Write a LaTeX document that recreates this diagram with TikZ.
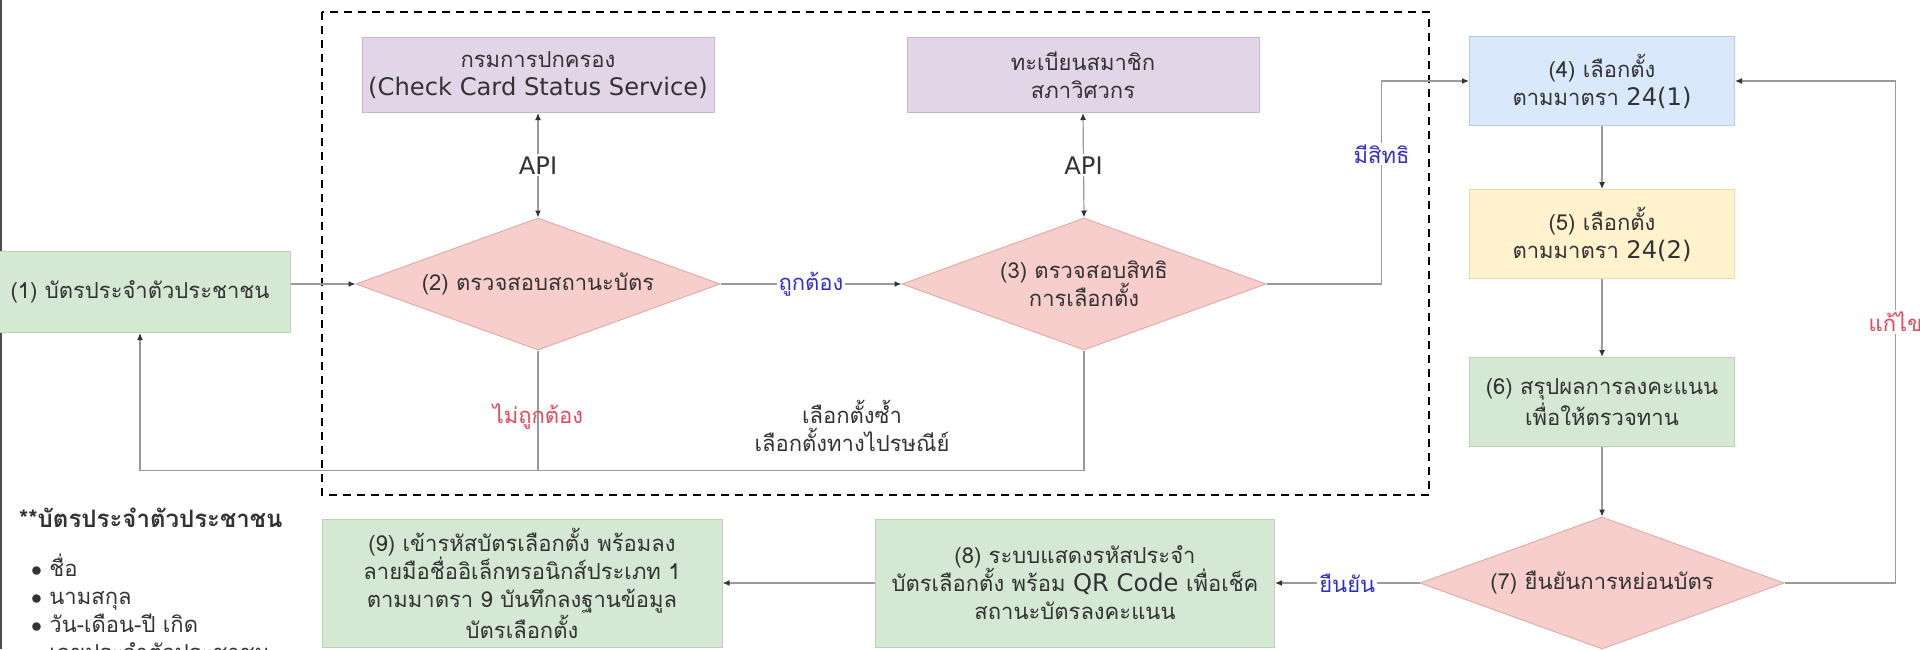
\documentclass[tikz,border=0pt]{standalone}
\usepackage{fontspec}
\setmainfont[Script=Thai]{Loma}
\newfontfamily\latin[Scale=1.1]{DejaVu Sans}
\usepackage{tikz}
\usetikzlibrary{positioning}
\usetikzlibrary{arrows,arrows.meta,shapes}
\usetikzlibrary{calc}
\definecolor{boxgreen}{HTML}{D5E8D4}
\definecolor{linegreen}{HTML}{B9D6AE}
\definecolor{boxpurple}{HTML}{E1D5E7}
\definecolor{linepurple}{HTML}{C9B6D3}
\definecolor{boxblue}{HTML}{DAE8FC}
\definecolor{lineblue}{HTML}{B4CAEA}
\definecolor{boxyellow}{HTML}{FFF2CC}
\definecolor{lineyellow}{HTML}{EADBAA}
\definecolor{boxred}{HTML}{F8CECC}
\definecolor{linered}{HTML}{E0ADAB}
\definecolor{txtgray}{HTML}{333333}
\definecolor{arrowgray}{HTML}{9A9A9A}
\definecolor{okblue}{HTML}{3030C8}
\definecolor{badred}{HTML}{E5475C}
\tikzstyle{thai}=[font=\fontsize{11pt}{14pt}\selectfont, text=txtgray]
\tikzstyle{box}=[thai, rectangle, draw, line width=0.5pt, align=center, inner sep=2pt]
\tikzstyle{decision}=[thai, diamond, draw=linered, fill=boxred, line width=0.5pt, align=center, inner sep=0pt, shape aspect=2.75, minimum width=182pt, minimum height=66pt]
\tikzstyle{edge} = [draw, arrowgray, line width=0.6pt, -{Latex[length=3.5pt,width=3pt,color=txtgray]}]
\tikzstyle{bothedge} = [draw, arrowgray, line width=0.6pt, {Latex[length=3.5pt,width=3pt,color=txtgray]}-{Latex[length=3.5pt,width=3pt,color=txtgray]}]
\tikzstyle{plainedge} = [draw, arrowgray, line width=0.6pt]
\tikzstyle{weight} = [thai, fill=white, inner sep=1pt]

\begin{document}
\begin{tikzpicture}[x=0.5pt, y=-0.5pt]
    \useasboundingbox (0,0) rectangle (1920,649);
    % left edge of the screenshot
    \draw[line width=1pt, black!70] (1,0) -- (1,649);
    % dashed frame round the checks
    \draw[black, line width=1pt, dash pattern=on 4pt off 3pt] (322,12) rectangle (1429,495);

    % First we draw the boxes
    \node[box, fill=boxgreen, draw=linegreen, minimum width=150.5pt, minimum height=40.5pt] (n1) at (140,292) {(1) บัตรประจำตัวประชาชน};
    \foreach \pos/\name/\txt in {{(538,75)/p1/{กรมการปกครอง\\{\latin (Check Card Status Service)}}}, {(1083,75)/p2/{ทะเบียนสมาชิก\\สภาวิศวกร}}}
        \node[box, fill=boxpurple, draw=linepurple, minimum width=176pt, minimum height=37.5pt] (\name) at \pos {\txt};
    \foreach \pos/\name/\fillc/\linec/\txt in {{(1602,81)/n4/boxblue/lineblue/{(4) เลือกตั้ง\\ตามมาตรา {\latin 24(1)}}}, {(1602,234)/n5/boxyellow/lineyellow/{(5) เลือกตั้ง\\ตามมาตรา {\latin 24(2)}}}, {(1602,402)/n6/boxgreen/linegreen/{(6) สรุปผลการลงคะแนน\\เพื่อให้ตรวจทาน}}}
        \node[box, fill=\fillc, draw=\linec, minimum width=132.5pt, minimum height=44.5pt] (\name) at \pos {\txt};
    \node[box, fill=boxgreen, draw=linegreen, minimum width=199.5pt, minimum height=64pt] (n8) at (1075,583) {(8) ระบบแสดงรหัสประจำ\\บัตรเลือกตั้ง พร้อม {\latin QR Code} เพื่อเช็ค\\สถานะบัตรลงคะแนน};
    \node[box, fill=boxgreen, draw=linegreen, minimum width=200pt, minimum height=64pt] (n9) at (522,583) {(9) เข้ารหัสบัตรเลือกตั้ง พร้อมลง\\ลายมือชื่ออิเล็กทรอนิกส์ประเภท 1\\ตามมาตรา 9 บันทึกลงฐานข้อมูล\\บัตรเลือกตั้ง};

    % Then the decisions
    \node[decision] (d2) at (538,284) {(2) ตรวจสอบสถานะบัตร};
    \node[decision] (d3) at (1084,284) {(3) ตรวจสอบสิทธิ\\การเลือกตั้ง};
    \node[decision] (d7) at (1602,583) {(7) ยืนยันการหย่อนบัตร};

    % connectors
    \path[edge] (n1.east |- d2.west) -- (d2.west);
    \path[bothedge] (p1.south) -- node[weight] {\latin API} (d2.north);
    \path[bothedge] (p2.south) -- node[weight] {\latin API} (d3.north);
    \path[edge] (d2.east) -- node[weight, text=okblue] {ถูกต้อง} (d3.west);
    \path[edge] (d3.east) -- ++(115,0) |- node[weight, text=okblue, pos=0.32] {มีสิทธิ} (n4.west);
    \foreach \source/\dest in {n4/n5, n5/n6, n6/d7}
        \path[edge] (\source.south) -- (\dest.north);
    \path[edge] (d7.west) -- node[weight, text=okblue] {ยืนยัน} (n8.east);
    \path[edge] (n8.west) -- (n9.east);
    \path[edge] (d7.east) -- ++(111,0) |- node[weight, text=badred, pos=0.26] {แก้ไข} (n4.east);
    \path[edge] (d3.south) -- ++(0,120) coordinate (back) -| (n1.south);
    \path[plainedge] (d2.south) -- node[thai, text=badred, pos=0.55] (wrong) {ไม่ถูกต้อง} (d2.south |- back);
    \node[thai, align=center] (again) at (852,426) {เลือกตั้งซ้ำ\\เลือกตั้งทางไปรษณีย์};

    % card details
    \node[thai, anchor=base west, font=\fontsize{12pt}{14pt}\selectfont\bfseries] (head) at (12,527) {**บัตรประจำตัวประชาชน};
    \foreach \y/\name/\txt in {576/b1/ชื่อ, 604/b2/นามสกุล, 632/b3/วัน-เดือน-ปี เกิด, 660/b4/เลขประจำตัวประชาชน}
        \node[thai, anchor=base west] (\name) at (24,\y) {$\bullet$\ \txt};
\end{tikzpicture}
\end{document}
